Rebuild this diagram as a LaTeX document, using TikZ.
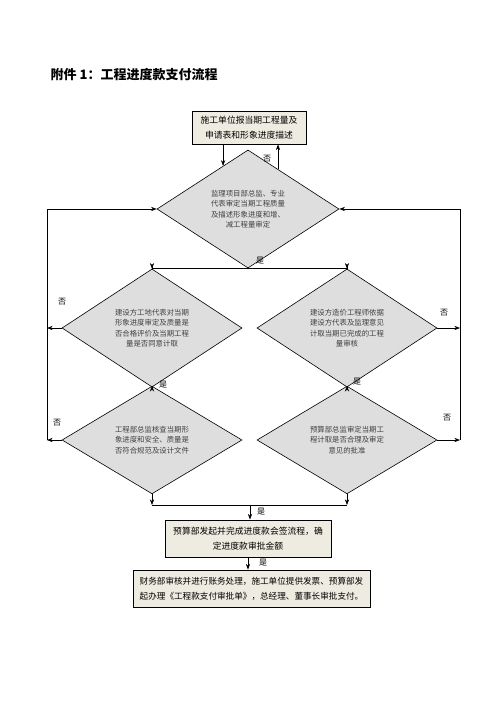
\documentclass[tikz,border=0pt]{standalone}
\usepackage{fontspec}
\setmainfont{Noto Sans CJK SC}
\usepackage{xcolor}
\usepackage{tikz}
\usetikzlibrary{arrows.meta,shapes.geometric}

\definecolor{boxfill}{HTML}{EEECE1}
\definecolor{decfill}{HTML}{DEDEDE}
\definecolor{dectext}{HTML}{404040}

\tikzset{
  stepbox/.style={draw,line width=0.9pt,fill=boxfill,align=center,font=\fontsize{8.8}{15}\selectfont,inner sep=0pt},
  check/.style={diamond,draw,line width=0.6pt,fill=decfill,text=dectext,align=center,text width=80pt,
    inner sep=0pt,font=\fontsize{7.4}{10.4}\selectfont},
  tag/.style={font=\fontsize{8}{9}\selectfont,inner sep=1pt}
}

\begin{document}
\begin{tikzpicture}[>=Stealth,x=1pt,y=-1pt,line width=0.6pt]
\useasboundingbox (0,0) rectangle (496,702);

\node[anchor=west,font=\fontsize{13}{15}\bfseries](title) at (47,75) {附件 1：工程进度款支付流程};

% boxes
\node[stepbox,minimum width=114pt,minimum height=33pt](apply) at (249,127.5)
  {施工单位报当期工程量及\\申请表和形象进度描述};
\node[stepbox,minimum width=166pt,minimum height=37pt](sign) at (248,538.5)
  {预算部发起并完成进度款会签流程，确\\定进度款审批金额};
\node[stepbox,minimum width=237pt,minimum height=37pt,font=\fontsize{8.6}{15}\selectfont](pay) at (251.5,588.5)
  {财务部审核并进行账务处理，施工单位提供发票、预算部发\\起办理《工程款支付审批单》，总经理、董事长审批支付。};

% checks
\node[check,minimum width=182pt,minimum height=88pt](super) at (248,209)
  {监理项目部总监、专业\\代表审定当期工程质量\\及描述形象进度和增、\\减工程量审定};
\node[check,minimum width=180pt,minimum height=94pt](owner) at (152,328)
  {建设方工地代表对当期\\形象进度审定及质量是\\否合格评价及当期工程\\量是否同意计取};
\node[check,minimum width=180pt,minimum height=94pt](cost) at (347,328)
  {建设方造价工程师依据\\建设方代表及监理意见\\计取当期已完成的工程\\量审核};
\node[check,minimum width=180pt,minimum height=91pt](site) at (152,440)
  {工程部总监核查当期形\\象进度和安全、质量是\\否符合规范及设计文件};
\node[check,minimum width=180pt,minimum height=91pt](budget) at (347,440)
  {预算部总监审定当期工\\程计取是否合理及审定\\意见的批准};

\coordinate (lbus) at (47,0);
\coordinate (rbus) at (460,0);
\coordinate (split) at (248,268);
\coordinate (merge) at (250,505);

% main flow
\draw[->] (apply.south -| super.120)--(super.120);
\draw[->] (super.53)--(super.53 |- apply.south);
\draw (super.south)--(split);
\draw[->] (split)-|(owner.north);
\draw[->] (split)-|(cost.north);
\draw[->] (owner.south)--(site.north);
\draw[->] (cost.south)--(budget.north);
\draw[->] (site.south)--(site.south |- merge);
\draw[->] (budget.south)--(budget.south |- merge);
\draw (site.south |- merge)--(budget.south |- merge);
\draw[->] (merge)--(merge |- sign.north);
\draw[->] (sign.south)--(sign.south |- pay.north);

% rejections back to supervision
\draw[->] (owner.west)--(owner.west -| lbus);
\draw[->] (site.west)--(site.west -| lbus);
\draw[->] (lbus |- site.west) |- (super.west);
\draw[->] (cost.east)--(cost.east -| rbus);
\draw[->] (budget.east)--(budget.east -| rbus);
\draw[->] (rbus |- budget.east) |- (super.east);

% yes / no marks
\node[tag](no0) at (267,159) {否};
\node[tag](no1) at (62,302) {否};
\node[tag](no2) at (57,423) {否};
\node[tag](no3) at (444,313) {否};
\node[tag](no4) at (447,418) {否};
\node[tag](yes0) at (260,261) {是};
\node[tag](yes1) at (163,385) {是};
\node[tag](yes2) at (357,382) {是};
\node[tag](yes3) at (261,512) {是};
\node[tag](yes4) at (263,563) {是};
\end{tikzpicture}
\end{document}
